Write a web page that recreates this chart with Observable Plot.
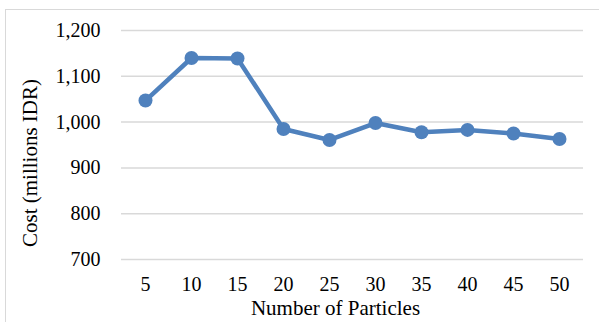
<!DOCTYPE html>
<html>
<head>
<meta charset="utf-8">
<script src="https://cdn.jsdelivr.net/npm/d3@7"></script>
<script src="https://cdn.jsdelivr.net/npm/@observablehq/plot@0.6"></script>
<style>
  html, body { margin: 0; padding: 0; background: #fff; }
  #wrap { position: relative; width: 599px; height: 322px; overflow: hidden; }
  #border { position: absolute; left: 5px; top: 9px; width: 600px; height: 320px;
            border-left: 1.5px solid #d9d9d9; border-top: 1.5px solid #d9d9d9; }
  #chart { position: absolute; left: 0; top: 0; }
</style>
</head>
<body>
<div id="wrap"><div id="border"></div><div id="chart"></div></div>
<script>
const particles = ["5", "10", "15", "20", "25", "30", "35", "40", "45", "50"];
const costs = [1047, 1140, 1139, 985, 961, 998, 978, 983, 975, 963];
const yTicks = [700, 800, 900, 1000, 1100, 1200];
const xTitle = "Number of Particles";
const yTitle = "Cost (millions IDR)";

const data = particles.map((p, i) => ({p, c: costs[i]}));
const fmt = d3.format(",");

const chart = Plot.plot({
  width: 599,
  height: 322,
  marginLeft: 121,
  marginRight: 16,
  marginTop: 30,
  marginBottom: 63,
  style: {fontFamily: "'Liberation Serif', 'Times New Roman', serif", fontSize: "20px", color: "#000", background: "transparent"},
  x: {type: "point", domain: particles, padding: 0.5, label: null},
  y: {domain: [700, 1200], label: null},
  marks: [
    Plot.gridY(yTicks, {stroke: "#d9d9d9", strokeOpacity: 1, strokeWidth: 1.5}),
    Plot.axisY(yTicks, {tickSize: 0, tickPadding: 21, tickFormat: fmt, label: null, fontSize: 20}),
    Plot.axisX({tickSize: 0, tickPadding: 17, label: null, fontSize: 20}),
    Plot.line(data, {x: "p", y: "c", stroke: "#4f81bd", strokeWidth: 4.5}),
    Plot.dot(data, {x: "p", y: "c", r: 7, fill: "#4f81bd", stroke: "none"}),
    Plot.text([yTitle], {frameAnchor: "left", textAnchor: "middle", rotate: -90, dx: -91, dy: 18, fontSize: 21, fill: "#000"}),
    Plot.text([xTitle], {frameAnchor: "bottom", dx: -17, dy: 55, fontSize: 21, fill: "#000"})
  ]
});
document.getElementById("chart").appendChild(chart);
</script>
</body>
</html>
